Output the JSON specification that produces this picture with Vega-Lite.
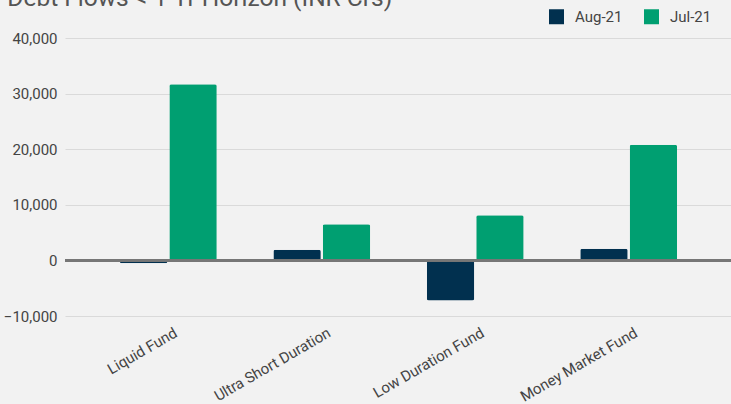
{
  "$schema": "https://vega.github.io/schema/vega-lite/v6.json",
  "autosize": {"type": "none"},
  "padding": {"left": 65, "top": 38, "right": 0, "bottom": 88},
  "width": 667,
  "height": 278,
  "background": "#f2f2f2",
  "title": {
    "text": "Debt Flows < 1 Yr Horizon (INR Crs)",
    "anchor": "start",
    "frame": "bounds",
    "font": "Roboto",
    "fontSize": 24.5,
    "fontWeight": "normal",
    "color": "#555555",
    "baseline": "alphabetic",
    "offset": -21,
    "dx": 4
  },
  "data": {
    "values": [
      {"fund": "Liquid Fund", "month": "Aug-21", "flow": -500},
      {"fund": "Liquid Fund", "month": "Jul-21", "flow": 31700},
      {"fund": "Ultra Short Duration", "month": "Aug-21", "flow": 1900},
      {"fund": "Ultra Short Duration", "month": "Jul-21", "flow": 6500},
      {"fund": "Low Duration Fund", "month": "Aug-21", "flow": -7200},
      {"fund": "Low Duration Fund", "month": "Jul-21", "flow": 8100},
      {"fund": "Money Market Fund", "month": "Aug-21", "flow": 2100},
      {"fund": "Money Market Fund", "month": "Jul-21", "flow": 20800}
    ]
  },
  "layer": [
    {
      "mark": {"type": "bar", "cornerRadius": 2},
      "encoding": {
        "x": {
          "field": "fund",
          "type": "nominal",
          "sort": null,
          "scale": {"paddingInner": 0.369, "paddingOuter": 0.358},
          "axis": {
            "title": null,
            "labelAngle": -30,
            "labelFont": "Roboto",
            "labelFontSize": 15,
            "labelColor": "#444444",
            "labelPadding": 9,
            "labelOffset": 4,
            "ticks": false,
            "domain": false,
            "grid": false
          }
        },
        "xOffset": {
          "field": "month",
          "type": "nominal",
          "sort": ["Aug-21", "Jul-21"],
          "scale": {"paddingInner": 0.04, "paddingOuter": 0}
        },
        "y": {
          "field": "flow",
          "type": "quantitative",
          "scale": {"domain": [-10000, 40000], "nice": false, "zero": false},
          "axis": {
            "title": null,
            "values": [-10000, 0, 10000, 20000, 30000, 40000],
            "format": ",d",
            "labelFont": "Roboto",
            "labelFontSize": 15,
            "labelColor": "#444444",
            "labelPadding": 8,
            "ticks": false,
            "domain": false,
            "gridColor": "#dadada",
            "gridWidth": 1
          }
        },
        "color": {
          "field": "month",
          "type": "nominal",
          "sort": ["Aug-21", "Jul-21"],
          "scale": {"domain": ["Aug-21", "Jul-21"], "range": ["#01304f", "#009f71"]},
          "legend": {
            "title": null,
            "orient": "none",
            "direction": "horizontal",
            "legendX": 484,
            "legendY": -29,
            "symbolType": "square",
            "symbolSize": 225,
            "symbolStrokeWidth": 0,
            "labelFont": "Roboto",
            "labelFontSize": 15,
            "labelColor": "#444444",
            "labelOffset": 11,
            "columnPadding": 21
          }
        }
      }
    },
    {
      "mark": {"type": "rule", "color": "#777777", "strokeWidth": 2},
      "encoding": {"y": {"datum": 0, "type": "quantitative"}}
    }
  ],
  "config": {"view": {"stroke": null}}
}
